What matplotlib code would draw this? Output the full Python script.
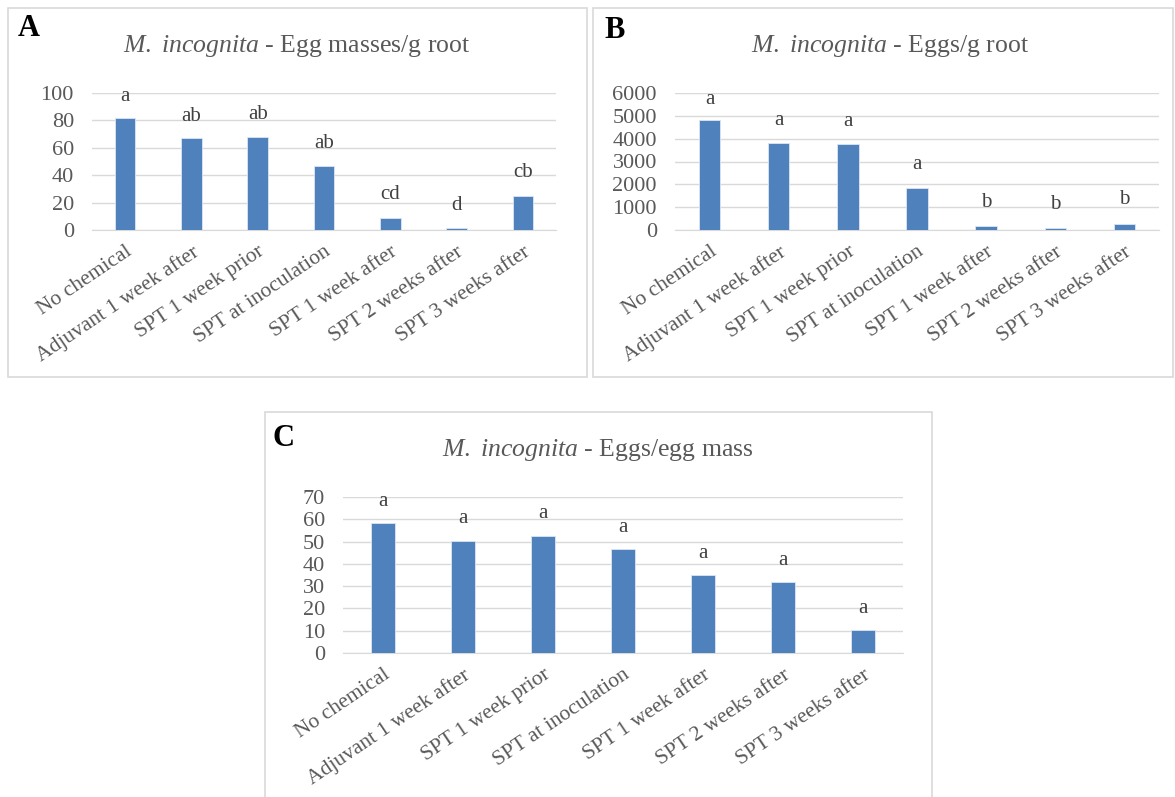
import matplotlib
matplotlib.use('Agg')
import matplotlib.pyplot as plt
from matplotlib.patches import Rectangle
import numpy as np

plt.rcParams['font.family'] = ['Liberation Serif', 'DejaVu Serif']
plt.rcParams['mathtext.fontset'] = 'custom'
plt.rcParams['mathtext.rm'] = 'Liberation Serif'
plt.rcParams['mathtext.it'] = 'Liberation Serif:italic'

treatments = ['No chemical', 'Adjuvant 1 week after', 'SPT 1 week prior',
              'SPT at inoculation', 'SPT 1 week after', 'SPT 2 weeks after',
              'SPT 3 weeks after']

# egg masses per g root
egg_masses = [81.6, 67, 68, 47, 8.8, 1.2, 25.1]
egg_masses_letters = ['a', 'ab', 'ab', 'ab', 'cd', 'd', 'cb']
egg_masses_letter_y = [97.5, 82.9, 84.1, 63.4, 25.6, 17.6, 41.9]

# eggs per g root
eggs_root = [4798, 3832, 3774, 1857, 190, 73, 278]
eggs_root_letters = ['a', 'a', 'a', 'a', 'b', 'b', 'b']
eggs_root_letter_y = [5722, 4798, 4755, 2853, 1216, 1097, 1317]

# eggs per egg mass
eggs_mass = [58.2, 50.4, 52.5, 46.5, 34.9, 31.7, 10.3]
eggs_mass_letters = ['a'] * 7
eggs_mass_letter_y = [67.9, 60.4, 62.7, 56.2, 44.7, 41.7, 20]

W, H = 1175, 797
BAR = '#4f81bd'
GRID = '#d9d9d9'
TXT = '#595959'

fig = plt.figure(figsize=(W / 100, H / 100), dpi=100)


def px_axes(x0, x1, ytop, ybot):
    return fig.add_axes([x0 / W, 1 - ybot / H, (x1 - x0) / W, (ybot - ytop) / H])


def frame(x0, y0, x1, y1):
    fig.patches.append(Rectangle((x0 / W, 1 - y1 / H), (x1 - x0) / W, (y1 - y0) / H,
                                 transform=fig.transFigure, fill=False,
                                 edgecolor=GRID, linewidth=1.2))


def panel(ax, values, letters, letter_y, ticks, title, tag, title_xy, tag_xy):
    x = np.arange(len(values))
    ax.bar(x, values, width=0.31, color=BAR, edgecolor='#dce6f2', linewidth=0.6, zorder=3)
    ax.set_xlim(-0.5, len(values) - 0.5)
    ax.set_ylim(ticks[0], ticks[-1])
    ax.set_yticks(ticks)
    ax.set_yticklabels([str(t) for t in ticks], fontsize=16, color=TXT)
    ax.yaxis.grid(True, color=GRID, linewidth=1.0, zorder=0)
    ax.set_axisbelow(True)
    for s in ['top', 'right', 'left']:
        ax.spines[s].set_visible(False)
    ax.spines['bottom'].set_color(GRID)
    ax.tick_params(axis='y', length=0, pad=13)
    ax.tick_params(axis='x', length=0, pad=9)
    ax.set_xticks(x)
    ax.set_xticklabels(treatments, rotation=34, ha='right', rotation_mode='anchor',
                       fontsize=15.5, color=TXT)
    for xi, lab, ly in zip(x, letters, letter_y):
        ax.text(xi, ly, lab, ha='center', va='center', fontsize=15, color='#404040')
    fig.text(title_xy[0] / W, 1 - title_xy[1] / H, title, ha='center', va='center',
             fontsize=18.5, color=TXT)
    fig.text(tag_xy[0] / W, 1 - tag_xy[1] / H, tag, ha='center', va='center',
             fontsize=22, fontweight='bold', color='black')


frame(8, 8, 587, 377)
frame(593, 8, 1173, 377)
frame(265, 412, 932, 810)

ax_a = px_axes(92, 556, 93, 230)
panel(ax_a, egg_masses, egg_masses_letters, egg_masses_letter_y,
      [0, 20, 40, 60, 80, 100],
      r'$\mathit{M.\ incognita}$ - Egg masses/g root', 'A', (297, 46), (29, 29))

ax_b = px_axes(675, 1159, 93, 230)
panel(ax_b, eggs_root, eggs_root_letters, eggs_root_letter_y,
      [0, 1000, 2000, 3000, 4000, 5000, 6000],
      r'$\mathit{M.\ incognita}$ - Eggs/g root', 'B', (890, 46), (615, 31))

ax_c = px_axes(343, 903, 497, 653)
panel(ax_c, eggs_mass, eggs_mass_letters, eggs_mass_letter_y,
      [0, 10, 20, 30, 40, 50, 60, 70],
      r'$\mathit{M.\ incognita}$ - Eggs/egg mass', 'C', (598, 450), (284, 438))

fig.savefig('out.png', dpi=100)
